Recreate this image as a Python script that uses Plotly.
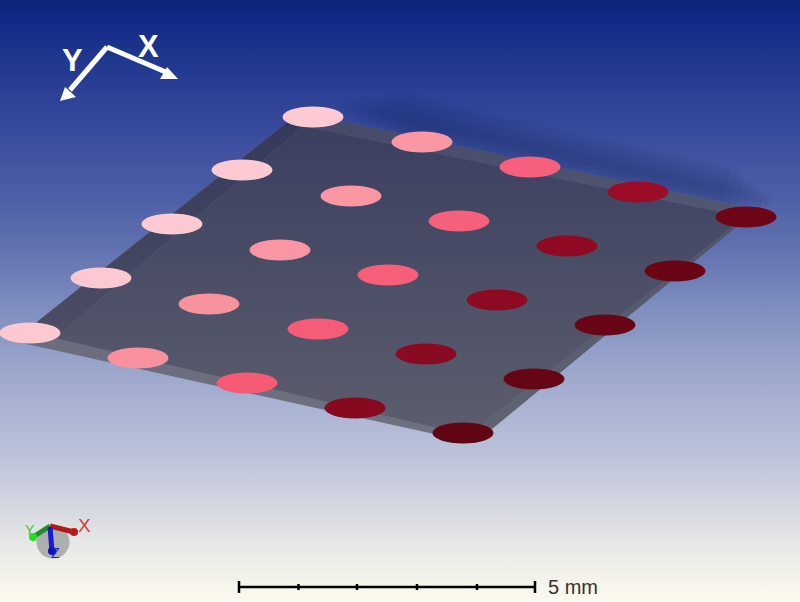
"""Plate with five by five measurement spots, drawn in picture pixels."""
import plotly.graph_objects as go

# Picture coordinates (origin top left, y down)
spot_x = [
    [313, 422, 530, 638, 746],
    [242, 351, 459, 567, 675],
    [172, 280, 388, 497, 605],
    [101, 209, 318, 426, 534],
    [30, 138, 247, 355, 463],
]
spot_y = [
    [117, 142, 167, 192, 217],
    [170, 196, 221, 246, 271],
    [224, 250, 275, 300, 325],
    [278, 304, 329, 354, 379],
    [333, 358, 383, 408, 433],
]
spot_colors = [
    ['#fdc9d3', '#fb97a5', '#f6607d', '#9c0c28', '#6e0517'],
    ['#fdc9d3', '#fb97a5', '#f6607d', '#900a24', '#6a0516'],
    ['#fdc9d3', '#fa95a3', '#f65e7a', '#8e0a23', '#680516'],
    ['#fcc8d2', '#f9929f', '#f65c78', '#8a0a21', '#660515'],
    ['#fcc8d2', '#f9909e', '#f65a75', '#860920', '#610414'],
]
spot_rx = 30.5
spot_ry = 10.5

bg_stops = [0, 20, 60, 120, 200, 250, 300, 350, 400, 460, 500, 540, 602]
bg_colors = ['#0b2578', '#112a85', '#20378e', '#35479a', '#4f60a8', '#6172b0', '#7b8abd',
             '#939fc8', '#a8b1d2', '#bec4da', '#d2d5e0', '#e5e6e6', '#fdfbee']

# plate: whole outline, then the side strips and the top face on it
outer_x = [300, 757, 475, 22, 37]
outer_y = [112, 210, 443, 343, 322]
left_x = [300, 303, 55, 37]
left_y = [112, 126, 338, 322]
top_x = [300, 757, 745, 303]
top_y = [112, 210, 217, 126]
right_x = [757, 745, 468, 475]
right_y = [210, 217, 435, 443]
face_x = [303, 745, 468, 55]
face_y = [126, 217, 435, 338]

shadow_x = [[400, 725], [390, 733], [380, 740], [370, 748], [360, 755], [352, 762], [346, 768], [342, 772]]
shadow_y = [[117, 192], [115, 193], [113, 195], [111, 197], [109, 198], [108, 200], [107, 201], [106, 202]]
shadow_widths = [50, 44, 38, 32, 26, 20, 14, 8]

x_arrow_x = [107, 168]
x_arrow_y = [47, 73]
x_head_x = [178, 160, 167]
x_head_y = [79, 79, 67]
y_arrow_x = [107, 70]
y_arrow_y = [47, 90]
y_head_x = [60, 65, 76]
y_head_y = [101, 87, 97]

scale_ticks = [239, 298.5, 357, 417, 477, 535]
scale_y = 587


def gradient(pairs):
    # the y axis is reversed, so the gradient runs bottom to top here
    return dict(type='vertical', colorscale=[[1 - p, c] for p, c in reversed(pairs)])


def polygon(xs, ys, top_color, bottom_color):
    return go.Scatter(
        x=xs + xs[:1], y=ys + ys[:1],
        mode='lines', line=dict(width=0),
        fill='toself',
        fillgradient=gradient([(0, top_color), (1, bottom_color)]),
        hoverinfo='skip'
    )


def segment(xs, ys, color, width):
    return go.Scatter(x=xs, y=ys, mode='lines', line=dict(color=color, width=width), hoverinfo='skip')


def solid(xs, ys, color):
    return go.Scatter(x=xs + xs[:1], y=ys + ys[:1], mode='lines', line=dict(width=0),
                      fill='toself', fillcolor=color, hoverinfo='skip')


fig = go.Figure()

# Background gradient
fig.add_trace(go.Scatter(
    x=[0, 800, 800, 0, 0], y=[0, 0, 602, 602, 0],
    mode='lines', line=dict(width=0), fill='toself',
    fillgradient=gradient([(s / 602, c) for s, c in zip(bg_stops, bg_colors)]),
    hoverinfo='skip'
))

# Soft shadow behind the far edge
for sx, sy, w in zip(shadow_x, shadow_y, shadow_widths):
    fig.add_trace(segment(sx, sy, 'rgba(25,35,90,0.05)', w))

# Plate
fig.add_trace(polygon(outer_x, outer_y, '#60637a', '#6f7180'))
fig.add_trace(polygon(left_x, left_y, '#33385a', '#4c4e64'))
fig.add_trace(polygon(top_x, top_y, '#444969', '#525773'))
fig.add_trace(polygon(right_x, right_y, '#4e5470', '#62646f'))
fig.add_trace(polygon(face_x, face_y, '#3b3f60', '#5c5e6d'))

# Orientation arrows
fig.add_trace(segment(x_arrow_x, x_arrow_y, 'white', 5))
fig.add_trace(segment(y_arrow_x, y_arrow_y, 'white', 5))
fig.add_trace(solid(x_head_x, x_head_y, 'white'))
fig.add_trace(solid(y_head_x, y_head_y, 'white'))

# Small triad, bottom left
fig.add_trace(go.Scatter(x=[53], y=[542], mode='markers',
                         marker=dict(size=33, color='#a4a4a4', opacity=0.85, line=dict(width=0)),
                         hoverinfo='skip'))
fig.add_trace(segment([50, 33], [526, 537], '#1f8f2a', 5))
fig.add_trace(segment([50, 74], [526, 532], '#b01a1a', 5))
fig.add_trace(segment([50, 52], [527, 551], '#1a1ad0', 5))
fig.add_trace(go.Scatter(x=[33, 52, 74], y=[537, 551, 532], mode='markers',
                         marker=dict(size=8, color=['#20e020', '#1010c0', '#c01818']),
                         hoverinfo='skip'))

# Scale bar
fig.add_trace(segment([scale_ticks[0], scale_ticks[-1]], [scale_y, scale_y], 'black', 2.5))
for i, t in enumerate(scale_ticks):
    half = 6 if i in (0, len(scale_ticks) - 1) else 3
    fig.add_trace(segment([t, t], [scale_y - half, scale_y + half], 'black', 2.5))

# Spots
for row_x, row_y, row_c in zip(spot_x, spot_y, spot_colors):
    for cx, cy, col in zip(row_x, row_y, row_c):
        fig.add_shape(type='circle', xref='x', yref='y',
                      x0=cx - spot_rx, x1=cx + spot_rx, y0=cy - spot_ry, y1=cy + spot_ry,
                      fillcolor=col, line=dict(width=0))

labels = [
    ('X', 148, 46, 'white', 31, True),
    ('Y', 72, 60, 'white', 31, True),
    ('X', 84, 525, '#d04040', 19, False),
    ('Y', 30, 530, '#40c040', 14, False),
    ('Z', 55, 553, '#2020d0', 14, False),
    ('5 mm', 546, 587, '#333333', 20, False),
]
for text, lx, ly, col, size, bold in labels:
    fig.add_annotation(
        x=lx, y=ly, xref='x', yref='y',
        text=text,
        showarrow=False,
        xanchor='left' if text == '5 mm' else 'center',
        yanchor='middle',
        font=dict(color=col, size=size, family='Liberation Sans', weight='bold' if bold else 'normal')
    )

fig.update_xaxes(range=[0, 800], visible=False, fixedrange=True)
fig.update_yaxes(range=[602, 0], visible=False, fixedrange=True)
fig.update_layout(
    width=800, height=602,
    margin=dict(l=0, r=0, t=0, b=0),
    showlegend=False,
    paper_bgcolor='white',
    plot_bgcolor='white'
)

fig.write_html("out.html", config=dict(displayModeBar=False),
               post_script="document.body.style.margin='0';document.documentElement.style.overflow='hidden';")
